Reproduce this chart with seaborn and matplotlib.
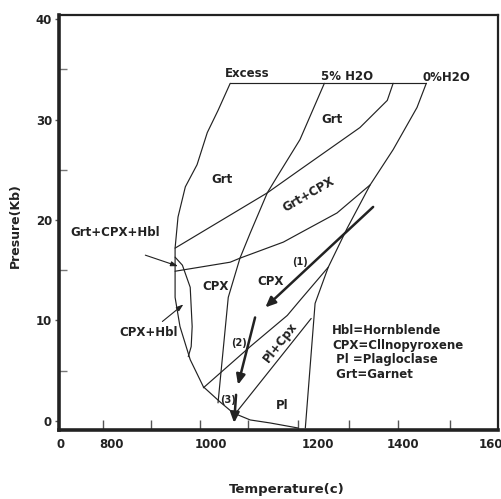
import matplotlib
matplotlib.use("Agg")
import matplotlib.pyplot as plt
import seaborn as sns
import pandas as pd

# ---- data (temperature in C, pressure in Kb) ----
excess_T = [1044, 1019, 997, 976, 952, 937, 931, 931, 941, 962, 989, 1023, 1050, 1085, 1126, 1183]
excess_P = [33.6, 30.9, 28.7, 25.5, 23.3, 20.3, 17.2, 12.3, 9.4, 6.1, 3.4, 1.9, 0.8, 0.1, -0.2, -0.7]

top_T = [1044, 1446]
top_P = [33.6, 33.6]

h2o5_T = [1237, 1187, 1140, 1120, 1085, 1064, 1040, 1019]
h2o5_P = [33.6, 28.0, 24.3, 22.7, 18.7, 16.2, 12.3, 1.8]

grt_T = [1378, 1366, 1310, 1187, 1120, 931]
grt_P = [33.6, 31.9, 29.2, 25.0, 22.7, 17.2]

grtcpx_T = [1331, 1263, 1187, 1153, 1064, 1044, 931]
grtcpx_P = [23.5, 20.7, 18.7, 17.8, 16.2, 15.8, 14.9]

h2o0_T = [1446, 1427, 1378, 1331, 1284, 1245, 1218, 1198]
h2o0_P = [33.6, 31.2, 27.0, 23.5, 19.2, 15.3, 11.7, -0.7]

cpx_pl_T = [1245, 1187, 1161, 1085, 989]
cpx_pl_P = [15.3, 12.0, 10.5, 7.4, 3.3]

pl_T = [1210, 1054]
pl_P = [10.2, 0.7]

hbl_T = [931, 946, 962, 966, 964, 958]
hbl_P = [16.3, 15.5, 13.3, 9.4, 7.4, 6.4]

# P-T paths (start T, start P, end T, end P)
paths = [(1337, 21.3, 1116, 11.3), (1095, 10.3, 1060, 3.6), (1056, 2.6, 1052, -0.2)]
path_labels = [("(1)", 1187, 15.8), ("(2)", 1062, 7.8), ("(3)", 1040, 2.1)]

# pointer arrows (text T, text P, tip T, tip P)
pointers = [(870, 16.5, 937, 15.4), (905, 9.9, 948, 11.6)]

field_labels = [
    ("Excess", 1079, 34.6, 0), ("5% H2O", 1284, 34.3, 0), ("0%H2O", 1487, 34.2, 0),
    ("Grt", 1253, 30.0, 0), ("Grt", 1028, 24.0, 0), ("Grt+CPX", 1204, 22.5, 30),
    ("Grt+CPX+Hbl", 808, 18.8, 0), ("CPX", 1013, 13.4, 0), ("CPX", 1126, 13.9, 0),
    ("CPX+Hbl", 876, 8.8, 0), ("Pl+Cpx", 1146, 7.8, 52), ("Pl", 1151, 1.5, 0),
]
legend_lines = ["Hbl=Hornblende", "CPX=Cllnopyroxene", " Pl =Plagloclase", " Grt=Garnet"]
legend_P = [9.0, 7.5, 6.1, 4.6]
legend_T = 1253

xtick_pos = [697, 800, 1005, 1224, 1399, 1587]
xtick_lab = ["0", "800", "1000", "1200", "1400", "1600"]
xminor = [784, 882, 982, 1081, 1184, 1287, 1389, 1494]
ytick_pos = [0, 10, 20, 30, 40]
yminor = [5, 15, 25, 35]

# ---- plotting ----
sns.set_theme(style="white")
plt.rcParams['font.family'] = ['DejaVu Sans']
plt.rcParams['font.weight'] = 'bold'

fig = plt.figure(figsize=(5.02, 4.99), dpi=100)
ax = fig.add_axes([59/502, 69/499, 439/502, 415/499])

curves = [(excess_T, excess_P), (top_T, top_P), (h2o5_T, h2o5_P), (grt_T, grt_P),
          (grtcpx_T, grtcpx_P), (h2o0_T, h2o0_P), (cpx_pl_T, cpx_pl_P), (pl_T, pl_P),
          (hbl_T, hbl_P)]
for i, (t, p) in enumerate(curves):
    df = pd.DataFrame({"T": t, "P": p})
    sns.lineplot(data=df, x="T", y="P", sort=False, estimator=None, ax=ax,
                 color="#222222", linewidth=0.85)

for (t0, p0, t1, p1) in paths:
    ax.annotate("", xy=(t1, p1), xytext=(t0, p0),
                arrowprops=dict(arrowstyle="-|>,head_length=0.5,head_width=0.22",
                                lw=1.8, color="#222222", shrinkA=0, shrinkB=0))
for (t0, p0, t1, p1) in pointers:
    ax.annotate("", xy=(t1, p1), xytext=(t0, p0),
                arrowprops=dict(arrowstyle="-|>,head_length=0.35,head_width=0.12",
                                lw=0.8, color="#222222", shrinkA=0, shrinkB=0))

for txt, t, p in path_labels:
    ax.text(t, p, txt, fontsize=7, fontweight='bold', ha='center', va='center', color='#222222')
for txt, t, p, r in field_labels:
    ax.text(t, p, txt, fontsize=8.5, fontweight='bold', ha='center', va='center',
            rotation=r, color='#222222', rotation_mode='anchor')
for txt, p in zip(legend_lines, legend_P):
    ax.text(legend_T, p, txt, fontsize=8.5, fontweight='bold', ha='left', va='center', color='#222222')

ax.set_xlim(693, 1593)
ax.set_ylim(-0.9, 40.4)
ax.set_xticks(xtick_pos)
ax.set_xticklabels(xtick_lab)
ax.set_xticks(xminor, minor=True)
ax.set_yticks(ytick_pos)
ax.set_yticklabels([str(v) for v in ytick_pos])
ax.set_yticks(yminor, minor=True)
ax.tick_params(axis='x', which='major', length=0, pad=6, labelsize=8.5, labelcolor='#222222')
ax.tick_params(axis='x', which='minor', direction='in', length=7, width=1, color='#555555', bottom=True)
ax.tick_params(axis='y', which='major', direction='out', length=3, width=1, pad=2,
               labelsize=8.5, labelcolor='#222222', left=True, color='#555555')
ax.tick_params(axis='y', which='minor', direction='in', length=6, width=1, color='#777777', left=True)
for lab in ax.get_xticklabels() + ax.get_yticklabels():
    lab.set_fontweight('bold')

ax.set_xlabel("")
ax.set_ylabel("")
for side, w in [("left", 2.6), ("bottom", 2.6), ("top", 1.6), ("right", 1.6)]:
    ax.spines[side].set_visible(True)
    ax.spines[side].set_linewidth(w)
    ax.spines[side].set_color("#222222")

fig.text(287/502, 1 - 490/499, "Temperature(c)", fontsize=9.5, fontweight='bold',
         ha='center', va='center', color='#222222')
fig.text(15/502, 1 - 226/499, "Presure(Kb)", fontsize=9, fontweight='bold',
         ha='center', va='center', rotation=90, color='#222222')

fig.savefig("out.png", dpi=100)
